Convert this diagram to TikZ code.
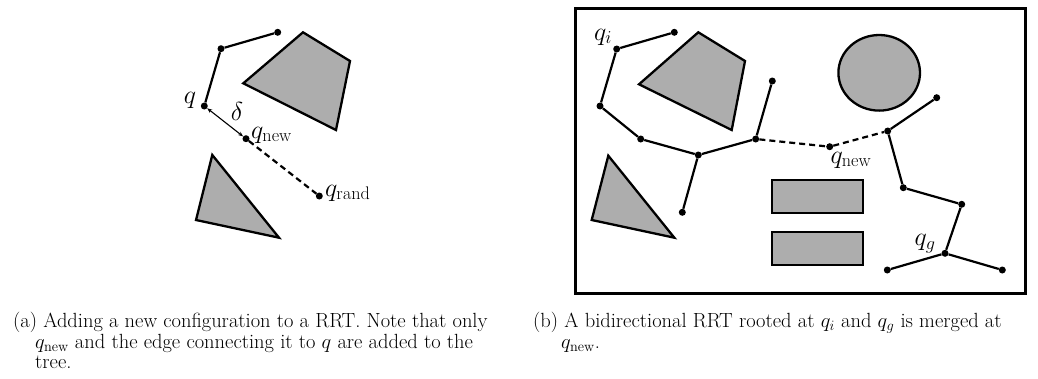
\documentclass[tikz,border=0pt]{standalone}
\usepackage{fix-cm}
\usepackage{amsmath}
\usetikzlibrary{arrows.meta,positioning}
\tikzset{
  vertex/.style   = {circle, fill=black, inner sep=0pt, minimum size=7pt},
  edge/.style     = {line width=2.2pt},
  bridge/.style   = {line width=2.2pt, dash pattern=on 6pt off 4pt},
  stepsize/.style = {{Stealth[length=5pt,width=4pt]}-{Stealth[length=5pt,width=4pt]}, line width=1.1pt},
  obstacle/.style = {draw=black, line width=2.3pt, fill=black!32, line join=miter},
  frame/.style    = {draw=black, line width=3pt},
  lbl/.style      = {font=\fontsize{26}{26}\selectfont, inner sep=1pt},
  capt/.style     = {font=\fontsize{20.5}{20.5}\selectfont, align=left, anchor=north west, inner sep=0pt},
}

\begin{document}
\begin{tikzpicture}[x=1pt, y=-1pt]
  \useasboundingbox (0,0) rectangle (1038,378);

  % (a) one extension step
  \draw[obstacle] (303,32.3) -- (350,61) -- (336,130) -- (243.3,83.3) -- cycle;
  \draw[obstacle] (212.3,155) -- (279,237.7) -- (196,220) -- cycle;
  \node[vertex] (a1) at (277.7,32.3) {};
  \node[vertex] (a2) at (221,48.7) {};
  \node[vertex] (q) at (204.3,106) {};
  \node[vertex] (qnew) at (246,138.7) {};
  \node[vertex] (qrand) at (319.3,196) {};
  \draw[edge] (a1) -- (a2) -- (q);
  \draw[stepsize] (q) -- (qnew);
  \draw[bridge] (qnew) -- (qrand);
  \node[lbl] (lq) at (190,100) {$q$};
  \node[lbl] (ldelta) at (237,111) {$\delta$};
  \node[lbl, anchor=west] (lqnew) at (250,135) {$q_{\mathrm{new}}$};
  \node[lbl, anchor=west] (lqrand) at (324,193) {$q_{\mathrm{rand}}$};

  % (b) two trees merged
  \draw[frame] (575.5,8.3) rectangle (1025.7,293.7);
  \draw[obstacle] (698.3,32.3) -- (745,61) -- (731.7,130) -- (639,84.3) -- cycle;
  \draw[obstacle] (608.3,155.7) -- (674.3,237.7) -- (591.7,220) -- cycle;
  \draw[obstacle] (879.2,72.8) ellipse [x radius=40.8, y radius=37.8];
  \draw[obstacle] (772.3,180) rectangle (863.3,212.7);
  \draw[obstacle] (772.3,231.7) rectangle (863.3,265);

  \node[vertex] (qi) at (616.7,49) {};
  \node[vertex] (b1) at (674.3,32.3) {};
  \node[vertex] (b2) at (600,106) {};
  \node[vertex] (b3) at (640.7,139) {};
  \node[vertex] (b4) at (698.3,155) {};
  \node[vertex] (b5) at (755.7,139) {};
  \node[vertex] (b6) at (772.3,81) {};
  \node[vertex] (b7) at (682.3,212.3) {};
  \node[vertex] (qm) at (829.7,146.7) {};
  \node[vertex] (g1) at (887.7,131) {};
  \node[vertex] (g2) at (936.7,97.7) {};
  \node[vertex] (g3) at (903.3,187.7) {};
  \node[vertex] (g4) at (961.7,204.3) {};
  \node[vertex] (qg) at (945,253.3) {};
  \node[vertex] (g5) at (887.3,270) {};
  \node[vertex] (g6) at (1002.3,270) {};

  \draw[edge] (b1) -- (qi) -- (b2) -- (b3) -- (b4) -- (b5) -- (b6);
  \draw[edge] (b4) -- (b7);
  \draw[bridge] (b5) -- (qm) -- (g1);
  \draw[edge] (g2) -- (g1) -- (g3) -- (g4) -- (qg) -- (g5);
  \draw[edge] (qg) -- (g6);

  \node[lbl] (lqi) at (603,37) {$q_i$};
  \node[lbl] (lqm) at (851,160) {$q_{\mathrm{new}}$};
  \node[lbl] (lqg) at (925,244) {$q_g$};

  % captions
  \node[capt] (capa) at (13,312) {(a) Adding a new configuration to a RRT. Note that only\\
    \hspace*{22pt}$q_{\text{new}}$ and the edge connecting it to $q$ are added to the\\
    \hspace*{22pt}tree.};
  \node[capt] (capb) at (533,312) {(b) A bidirectional RRT rooted at $q_i$ and $q_g$ is merged at\\
    \hspace*{28pt}$q_{\text{new}}$.};
\end{tikzpicture}
\end{document}
